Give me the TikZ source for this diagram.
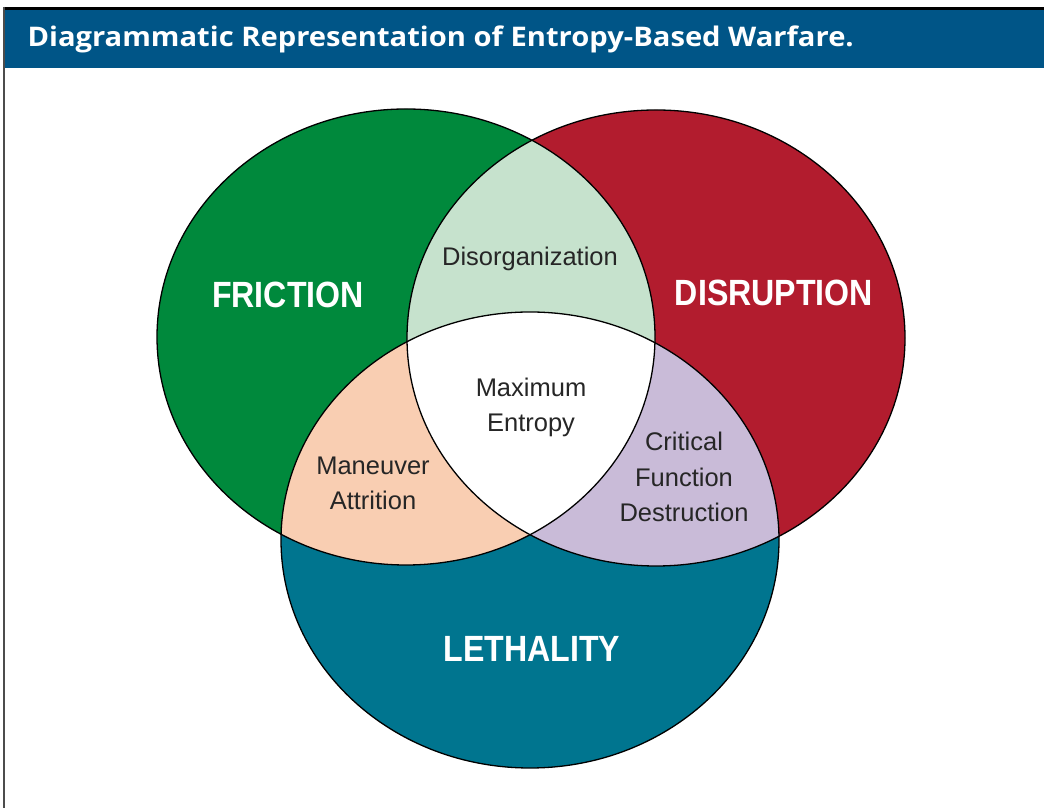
\documentclass[tikz,border=0pt]{standalone}
\usepackage{fontspec}
\setmainfont{Liberation Sans}
\newfontfamily\labelfont[FakeStretch=0.88]{Liberation Sans}
\newfontfamily\titlefont[FakeStretch=1.08]{Open Sans}
\begin{document}
\begin{tikzpicture}[x=1pt,y=1pt,
    blob/.style={x radius=249,y radius=228},
    biglabel/.style={text=white,anchor=base,font=\labelfont\bfseries\fontsize{36.5}{40}\selectfont},
    smalllabel/.style={text=black!85,anchor=base,align=center,font=\fontsize{25.5}{35.5}\selectfont}]
    \definecolor{ebw_title}{RGB}{0,85,135}
    \definecolor{ebw_green}{RGB}{0,137,60}
    \definecolor{ebw_red}{RGB}{178,28,46}
    \definecolor{ebw_teal}{RGB}{0,117,143}
    \definecolor{ebw_lgreen}{RGB}{198,226,205}
    \definecolor{ebw_peach}{RGB}{249,206,178}
    \definecolor{ebw_lilac}{RGB}{201,187,216}
    \useasboundingbox (0,0) rectangle (1044,808);
    % frame and title bar
    \fill[black] (3,798) rectangle (1044,801);
    \fill[ebw_title] (3,740) rectangle (1044,798);
    \draw[black!70,line width=1.2] (4,801) to (4,0);
    \node[anchor=base west,text=white,font=\titlefont\bfseries\fontsize{27}{30}\selectfont] (title) at (24,761) {Diagrammatic Representation of Entropy-Based Warfare.};
    % circle centres
    \coordinate (fric) at (406,471);
    \coordinate (disr) at (656,470);
    \coordinate (leth) at (530,268);
    \fill[ebw_green] (fric) ellipse [blob];
    \fill[ebw_red] (disr) ellipse [blob];
    \fill[ebw_teal] (leth) ellipse [blob];
    \begin{scope}
        \clip (fric) ellipse [blob];
        \fill[ebw_lgreen] (disr) ellipse [blob];
        \fill[ebw_peach] (leth) ellipse [blob];
    \end{scope}
    \begin{scope}
        \clip (disr) ellipse [blob];
        \fill[ebw_lilac] (leth) ellipse [blob];
        \clip (fric) ellipse [blob];
        \fill[white] (leth) ellipse [blob];
    \end{scope}
    \draw[line width=1.3] (fric) ellipse [blob];
    \draw[line width=1.3] (disr) ellipse [blob];
    \draw[line width=1.3] (leth) ellipse [blob];
    % labels
    \node[biglabel] (friction) at (288,500) {FRICTION};
    \node[biglabel] (disruption) at (774,502) {DISRUPTION};
    \node[biglabel] (lethality) at (532,146) {LETHALITY};
    \node[smalllabel] (disorg) at (530,542) {Disorganization};
    \node[smalllabel] (maxent) at (531,376) {Maximum\\Entropy};
    \node[smalllabel] (manatt) at (373,298) {Maneuver\\Attrition};
    \node[smalllabel] (critfun) at (684,286) {Critical\\Function\\Destruction};
\end{tikzpicture}
\end{document}
